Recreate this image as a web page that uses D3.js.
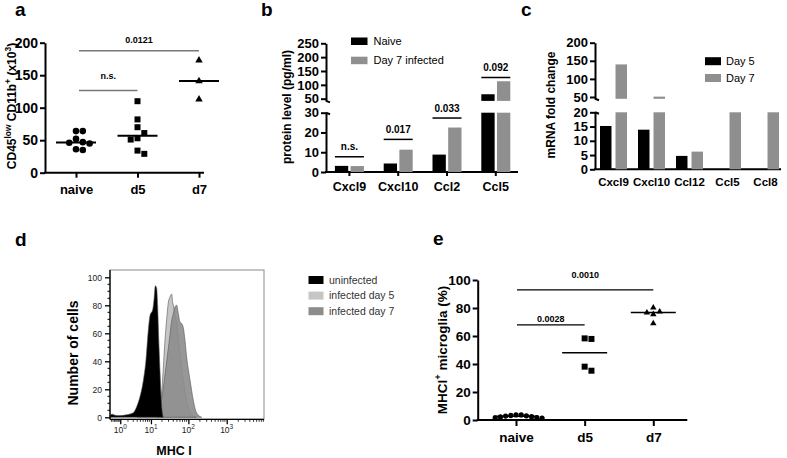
<!DOCTYPE html>
<html><head><meta charset="utf-8">
<script src="https://cdn.jsdelivr.net/npm/d3@7"></script>
<style>
body{margin:0;background:#fff;}
svg{display:block;}
</style></head><body>
<svg id="chart" width="787" height="458"></svg>
<script>
// ---------------- DATA ----------------
// Panel a
const aGroups = ["naive", "d5", "d7"];
const aNaive = [64, 64, 52, 47, 45, 46, 35, 36];
const aD5 = [110, 82, 70, 61, 53, 51, 29, 34];
const aD7 = [173, 141, 113];
const aTicks = [0, 50, 100, 150, 200];
const aSig = [
  {from: "naive", to: "d5", label: "n.s.", y: 126.5, ty: 149},
  {from: "naive", to: "d7", label: "0.0121", y: 187.5, ty: 205}
];
// Panel b
const bCats = ["Cxcl9", "Cxcl10", "Ccl2", "Ccl5"];
const bSeries = ["Naive", "Day 7 infected"];
const bNaive = [3.1, 4.3, 8.8, 66];
const bDay7 = [3.0, 11.3, 22.5, 113];
const bLowTicks = [0, 10, 20, 30];
const bHighTicks = [50, 100, 150, 200, 250];
const bSig = [
  {cat: "Cxcl9", label: "n.s.", y: 7.7},
  {cat: "Cxcl10", label: "0.017", y: 16.5},
  {cat: "Ccl2", label: "0.033", y: 27.3},
  {cat: "Ccl5", label: "0.092", y: 126.5}
];
// Panel c
const cCats = ["Cxcl9", "Cxcl10", "Ccl12", "Ccl5", "Ccl8"];
const cSeries = ["Day 5", "Day 7"];
const cDay5 = [15.2, 13.9, 4.7, 0, 0];
const cDay7 = [140, 51, 6.2, 32, 28];
const cLowTicks = [0, 5, 10, 15, 20];
const cHighTicks = [50, 100, 150, 200];
// Panel d (flow cytometry histograms: MHC I intensity, number of cells)
const dSeries = ["uninfected", "infected day 5", "infected day 7"];
const dUninfI = [0.22, 0.35, 0.54, 0.97, 1.8, 3.0, 3.85, 4.84, 6.05, 7.24, 8.41, 9.39, 11.2, 12.1, 13.2, 14.4, 15.3, 16.3, 17.7, 19.2, 21.7];
const dUninfN = [1.5, 2.2, 1.5, 1.2, 1.8, 3.2, 7.6, 14.7, 26, 41, 62, 72.6, 77, 83.6, 94, 92, 79, 57, 33, 12, 0];
const dDay5I = [4, 8, 12, 16, 19.6, 21.7, 24.1, 26.7, 29.6, 32.8, 36.3, 38.6, 40.2, 44.5, 49.2, 54.5, 60.2, 73.7, 90.2, 122, 160];
const dDay5N = [0, 3, 5, 8, 18, 35, 55, 70, 82, 86, 88, 82, 80, 74, 67, 56, 45, 26, 12, 2, 0];
const dDay7I = [14.4, 17.7, 21.7, 26.7, 32.8, 36.3, 40.2, 44.5, 49.2, 54.5, 60.2, 66.6, 73.7, 81.5, 90.2, 110, 135, 165, 223];
const dDay7N = [0, 6, 21, 40, 59, 69, 74, 79, 80, 74, 68, 67, 64, 55, 43, 27, 12, 3, 0];
const dYTicks = [0, 20, 40, 60, 80, 100];
const dXTicks = [1, 10, 100, 1000];
// Panel e
const eGroups = ["naive", "d5", "d7"];
const eNaive = [3.6, 3.2, 2.8, 2.2, 1.6, 1.3, 1.5, 2.4, 3.0, 3.6];
const eD5 = [58.3, 57.9, 35.2, 38.1];
const eD7 = [80.2, 76.7, 75.5, 77.4, 69];
const eTicks = [0, 20, 40, 60, 80, 100];
const eSig = [
  {from: "naive", to: "d5", label: "0.0028", y: 67.9, ty: 72.5},
  {from: "naive", to: "d7", label: "0.0010", y: 92.9, ty: 103.5}
];

// ---------------- HELPERS ----------------
const FONT = '"Liberation Sans", Arial, Helvetica, sans-serif';
const svg = d3.select("#chart").attr("font-family", FONT);

function styleAxis(g, size, weight, sw) {
  g.attr("font-family", FONT).attr("font-size", size).attr("font-weight", weight);
  g.selectAll(".domain, .tick line").attr("stroke", "#000").attr("stroke-width", sw);
  g.selectAll(".tick text").attr("fill", "#000");
}
function panelLabel(t, x, y) {
  svg.append("text").attr("x", x).attr("y", y).text(t)
    .attr("font-size", 19).attr("font-weight", "bold");
}
function richText(sel, parts, supSize, shift) {
  let prevSup = false;
  parts.forEach(([t, sup]) => {
    const ts = sel.append("tspan").text(t);
    if (sup) ts.attr("font-size", supSize);
    if (sup && !prevSup) ts.attr("dy", -shift);
    if (!sup && prevSup) ts.attr("dy", shift);
    prevSup = sup;
  });
}
function yTitle(cx, cy, size, parts) {
  const t = svg.append("text")
    .attr("transform", `translate(${cx},${cy}) rotate(-90)`)
    .attr("text-anchor", "middle").attr("font-size", size).attr("font-weight", "bold");
  richText(t, parts, size * 0.7, size * 0.4);
  return t;
}
function swarm(values, yScale, r) {
  const order = values.map((v, i) => ({v, i})).sort((a, b) => b.v - a.v);
  const placed = [], offs = new Array(values.length);
  const cands = [0];
  for (let j = 1; j < 30; j++) cands.push(j * r, -j * r);
  order.forEach(p => {
    const y = yScale(p.v);
    let dx = 0;
    for (const c of cands) {
      if (placed.every(q => Math.hypot(q.x - c, q.y - y) >= 2 * r - 0.01)) { dx = c; break; }
    }
    placed.push({x: dx, y});
    offs[p.i] = dx;
  });
  return offs;
}

// ---------------- PANEL A ----------------
(function () {
  const x0 = 45, x1 = 204;
  const x = d3.scalePoint().domain(aGroups).range([76, 199]);
  const y = d3.scaleLinear().domain([0, 200]).range([172.7, 42.7]);
  const g = svg.append("g");
  g.append("g").attr("transform", `translate(${x0},0)`)
    .call(d3.axisLeft(y).tickValues(aTicks).tickSize(5).tickSizeOuter(0).tickPadding(2))
    .call(s => styleAxis(s, 14, "bold", 2));
  const xa = g.append("g").attr("transform", `translate(0,${y(0)})`)
    .call(d3.axisBottom(x).tickSize(5).tickPadding(7).tickSizeOuter(0))
    .call(s => styleAxis(s, 13, "bold", 2));
  xa.select(".domain").remove();
  g.append("line").attr("x1", x0 - 1).attr("x2", x1).attr("y1", y(0)).attr("y2", y(0))
    .attr("stroke", "#000").attr("stroke-width", 2);

  const groups = [
    {name: "naive", vals: aNaive, sym: d3.symbolCircle, size: 34},
    {name: "d5", vals: aD5, sym: d3.symbolSquare, size: 36},
    {name: "d7", vals: aD7, sym: d3.symbolTriangle, size: 24}
  ];
  groups.forEach(gr => {
    const offs = swarm(gr.vals, y, 3.4);
    g.selectAll(null).data(gr.vals).join("path")
      .attr("d", d3.symbol(gr.sym, gr.size))
      .attr("transform", (d, i) => `translate(${x(gr.name) + offs[i]},${y(d)})`)
      .attr("fill", "#000");
    const m = d3.median(gr.vals);
    g.append("line").attr("x1", x(gr.name) - 20).attr("x2", x(gr.name) + 20)
      .attr("y1", y(m)).attr("y2", y(m)).attr("stroke", "#000").attr("stroke-width", 2);
  });
  aSig.forEach(s => {
    const xa1 = x(s.from) + 3, xa2 = x(s.to);
    g.append("line").attr("x1", xa1).attr("x2", xa2).attr("y1", y(s.y)).attr("y2", y(s.y))
      .attr("stroke", "#777").attr("stroke-width", 1.5);
    g.append("text").attr("x", (xa1 + xa2) / 2).attr("y", y(s.ty)).attr("dy", "0.35em")
      .attr("text-anchor", "middle").attr("font-size", 9).attr("font-weight", "bold").text(s.label);
  });
  yTitle(15.5, 106, 12, [["CD45", false], ["low", true], [" CD11b", false], ["+", true], [" (x10", false], ["3", true], [")", false]]);
  panelLabel("a", 15, 16);
})();

// ---------------- PANEL B ----------------
(function () {
  const x0 = 326;
  const low = d3.scaleLinear().domain([0, 30]).range([172, 112.7]);
  const high = d3.scaleLinear().domain([42, 250]).range([100.9, 43.3]);
  const xb = d3.scaleBand().domain(bCats).range([325, 520.2]);
  const xs = d3.scaleBand().domain(bSeries).range([-14.5, 14.5]).paddingInner(0.15);
  const color = d3.scaleOrdinal().domain(bSeries).range(["#000", "#8f8f8f"]);
  const g = svg.append("g");
  g.append("g").attr("transform", `translate(${x0},0)`)
    .call(d3.axisLeft(low).tickValues(bLowTicks).tickSize(5).tickSizeOuter(0).tickPadding(2))
    .call(s => styleAxis(s, 13, "bold", 2));
  g.append("g").attr("transform", `translate(${x0},0)`)
    .call(d3.axisLeft(high).tickValues(bHighTicks).tickSize(5).tickSizeOuter(0).tickPadding(2))
    .call(s => styleAxis(s, 13, "bold", 2));
  // break marks
  [high(42), low(30)].forEach(yy => {
    g.append("line").attr("x1", x0).attr("x2", x0 + 4).attr("y1", yy).attr("y2", yy + 1.5)
      .attr("stroke", "#000").attr("stroke-width", 2);
  });
  const xa = g.append("g").attr("transform", `translate(0,${low(0)})`)
    .call(d3.axisBottom(xb).tickSize(4).tickPadding(6).tickSizeOuter(0))
    .call(s => styleAxis(s, 12.5, "bold", 2));
  xa.select(".domain").remove();
  g.append("line").attr("x1", x0 - 1).attr("x2", 518).attr("y1", low(0)).attr("y2", low(0))
    .attr("stroke", "#000").attr("stroke-width", 2);

  const rows = [];
  bCats.forEach((c, i) => {
    rows.push({cat: c, s: bSeries[0], v: bNaive[i]});
    rows.push({cat: c, s: bSeries[1], v: bDay7[i]});
  });
  rows.forEach(r => {
    const bx = xb(r.cat) + xb.bandwidth() / 2 + xs(r.s);
    const lowTop = low(Math.min(r.v, 30));
    g.append("rect").attr("x", bx).attr("width", xs.bandwidth())
      .attr("y", lowTop).attr("height", low(0) - lowTop).attr("fill", color(r.s));
    if (r.v > 42) {
      g.append("rect").attr("x", bx).attr("width", xs.bandwidth())
        .attr("y", high(r.v)).attr("height", high(42) - high(r.v)).attr("fill", color(r.s));
    }
  });
  bSig.forEach(s => {
    const cx = xb(s.cat) + xb.bandwidth() / 2;
    const yy = s.y > 30 ? high(s.y) : low(s.y);
    g.append("line").attr("x1", cx + xs(bSeries[0])).attr("x2", cx + xs(bSeries[1]) + xs.bandwidth())
      .attr("y1", yy).attr("y2", yy).attr("stroke", "#000").attr("stroke-width", 1.5);
    g.append("text").attr("x", cx).attr("y", yy - 6.5).attr("text-anchor", "middle")
      .attr("font-size", 10).attr("font-weight", "bold").text(s.label);
  });
  bSeries.forEach((s, i) => {
    g.append("rect").attr("x", 351).attr("y", 37.5 + i * 19.2).attr("width", 16.5).attr("height", 7.5).attr("fill", color(s));
    g.append("text").attr("x", 373.5).attr("y", 41.3 + i * 19.2).attr("dy", "0.35em").attr("font-size", 11).text(s);
  });
  yTitle(290.5, 107, 12, [["protein level (pg/ml)", false]]);
  panelLabel("b", 261, 16);
})();

// ---------------- PANEL C ----------------
(function () {
  const x0 = 595;
  const low = d3.scaleLinear().domain([0, 20]).range([169.3, 112.3]);
  const high = d3.scaleLinear().domain([45, 200]).range([98.8, 42.7]);
  const xb = d3.scaleBand().domain(cCats).range([594.5, 784.5]);
  const xs = d3.scaleBand().domain(cSeries).range([-13.5, 13.5]).paddingInner(0.26);
  const color = d3.scaleOrdinal().domain(cSeries).range(["#000", "#8f8f8f"]);
  const g = svg.append("g");
  g.append("g").attr("transform", `translate(${x0},0)`)
    .call(d3.axisLeft(low).tickValues(cLowTicks).tickSize(5).tickSizeOuter(0).tickPadding(2))
    .call(s => styleAxis(s, 13, "bold", 2));
  g.append("g").attr("transform", `translate(${x0},0)`)
    .call(d3.axisLeft(high).tickValues(cHighTicks).tickSize(5).tickSizeOuter(0).tickPadding(2))
    .call(s => styleAxis(s, 13, "bold", 2));
  [high(45), low(20)].forEach(yy => {
    g.append("line").attr("x1", x0).attr("x2", x0 + 4).attr("y1", yy).attr("y2", yy + 1.5)
      .attr("stroke", "#000").attr("stroke-width", 2);
  });
  const xa = g.append("g").attr("transform", `translate(0,${low(0)})`)
    .call(d3.axisBottom(xb).tickSize(0).tickPadding(9).tickSizeOuter(0))
    .call(s => styleAxis(s, 11.5, "bold", 2));
  xa.select(".domain").remove();
  g.append("line").attr("x1", x0 - 1).attr("x2", 781).attr("y1", low(0)).attr("y2", low(0))
    .attr("stroke", "#000").attr("stroke-width", 2);
  const rows = [];
  cCats.forEach((c, i) => {
    rows.push({cat: c, s: cSeries[0], v: cDay5[i]});
    rows.push({cat: c, s: cSeries[1], v: cDay7[i]});
  });
  rows.forEach(r => {
    if (r.v <= 0) return;
    const bx = xb(r.cat) + xb.bandwidth() / 2 + xs(r.s);
    const lowTop = low(Math.min(r.v, 20));
    g.append("rect").attr("x", bx).attr("width", xs.bandwidth())
      .attr("y", lowTop).attr("height", low(0) - lowTop).attr("fill", color(r.s));
    if (r.v > 45) {
      g.append("rect").attr("x", bx).attr("width", xs.bandwidth())
        .attr("y", high(r.v)).attr("height", high(45) - high(r.v)).attr("fill", color(r.s));
    }
  });
  cSeries.forEach((s, i) => {
    g.append("rect").attr("x", 705).attr("y", 57.2 + i * 16.8).attr("width", 16).attr("height", 8).attr("fill", color(s));
    g.append("text").attr("x", 726).attr("y", 61.2 + i * 16.8).attr("dy", "0.35em").attr("font-size", 11).text(s);
  });
  yTitle(554.5, 105, 12, [["mRNA fold change", false]]);
  panelLabel("c", 521, 16);
})();

// ---------------- PANEL D ----------------
(function () {
  const L = 110, R = 264, T = 270, B = 419.3;
  const x = d3.scaleSymlog().constant(0.7).domain([0.22, 9350]).range([L, R]);
  const y = d3.scaleLinear().domain([0, 100]).range([417.3, 277.3]);
  const g = svg.append("g");
  const colors = d3.scaleOrdinal().domain(dSeries).range(["#000", "#c6c6c6", "#8c8c8c"]);
  g.append("rect").attr("x", L).attr("y", T).attr("width", R - L).attr("height", B - T)
    .attr("fill", "none").attr("stroke", "#8a8a8a").attr("stroke-width", 1);
  const area = d3.area().x(d => x(d[0])).y0(y(0)).y1(d => y(d[1])).curve(d3.curveMonotoneX);
  const sets = [
    {s: dSeries[1], I: dDay5I, N: dDay5N},
    {s: dSeries[2], I: dDay7I, N: dDay7N},
    {s: dSeries[0], I: dUninfI, N: dUninfN}
  ];
  sets.forEach(st => {
    const pts = st.I.map((v, i) => [v, st.N[i]]);
    g.append("path").attr("d", area(pts)).attr("fill", colors(st.s))
      .attr("fill-opacity", st.s === dSeries[2] ? 0.9 : 1)
      .attr("stroke", "#555").attr("stroke-width", 0.6);
  });
  // y axis
  const ya = g.append("g").attr("transform", `translate(${L},0)`)
    .call(d3.axisLeft(y).tickValues(dYTicks).tickSize(5).tickSizeOuter(0).tickPadding(3))
    .call(s => styleAxis(s, 8.5, "normal", 1.3));
  ya.select(".domain").attr("d", `M0,${B}V${T}`);
  ya.selectAll(".tick text").attr("fill", "#222");
  const yMinor = d3.range(0, 105, 5).filter(v => v % 20 !== 0);
  g.selectAll(null).data(yMinor).join("line").attr("x1", L - 2.5).attr("x2", L)
    .attr("y1", d => y(d)).attr("y2", d => y(d)).attr("stroke", "#000").attr("stroke-width", 1);
  // x axis
  const xa = g.append("g").attr("transform", `translate(0,${B})`)
    .call(d3.axisBottom(x).tickValues(dXTicks).tickSize(5).tickSizeOuter(0).tickFormat(""))
    .call(s => styleAxis(s, 8.5, "normal", 1.3));
  xa.select(".domain").attr("d", `M${L},0H${R}`);
  const xMinor = [];
  [0.1, 1, 10, 100, 1000].forEach(d => { for (let m = 2; m <= 9; m++) { const v = m * d; if (v >= 0.3 && v <= 9300) xMinor.push(v); } });
  g.selectAll(null).data(xMinor).join("line").attr("x1", d => x(d)).attr("x2", d => x(d))
    .attr("y1", B).attr("y2", B + 2.5).attr("stroke", "#000").attr("stroke-width", 0.8);
  dXTicks.forEach(v => {
    const t = g.append("text").attr("x", x(v)).attr("y", B + 14).attr("text-anchor", "middle")
      .attr("font-size", 8.5).attr("fill", "#222");
    t.append("tspan").text("10");
    t.append("tspan").text(String(Math.round(Math.log10(v)))).attr("font-size", 6.5).attr("dy", -4);
  });
  yTitle(78, 353, 14, [["Number of cells", false]]);
  g.append("text").attr("x", 174).attr("y", 455).attr("text-anchor", "middle")
    .attr("font-size", 12.5).attr("font-weight", "bold").text("MHC I");
  dSeries.forEach((s, i) => {
    g.append("rect").attr("x", 308.5).attr("y", 276 + i * 15.6).attr("width", 15).attr("height", 8).attr("fill", colors(s));
    g.append("text").attr("x", 329).attr("y", 280 + i * 15.6).attr("dy", "0.35em")
      .attr("font-size", 10.5).attr("fill", "#333").text(s);
  });
  panelLabel("d", 15, 246);
})();

// ---------------- PANEL E ----------------
(function () {
  const x0 = 477.7, x1 = 687.3;
  const x = d3.scalePoint().domain(eGroups).range([516, 653.3]);
  const y = d3.scaleLinear().domain([0, 100]).range([420, 280]);
  const g = svg.append("g");
  g.append("g").attr("transform", `translate(${x0},0)`)
    .call(d3.axisLeft(y).tickValues(eTicks).tickSize(5).tickSizeOuter(0).tickPadding(2))
    .call(s => styleAxis(s, 13.5, "bold", 2));
  const xa = g.append("g").attr("transform", `translate(0,${y(0)})`)
    .call(d3.axisBottom(x).tickSize(6).tickPadding(6).tickSizeOuter(0))
    .call(s => styleAxis(s, 13.5, "bold", 2));
  xa.select(".domain").remove();
  g.append("line").attr("x1", x0 - 1).attr("x2", x1).attr("y1", y(0)).attr("y2", y(0))
    .attr("stroke", "#000").attr("stroke-width", 2);
  const groups = [
    {name: "naive", vals: eNaive, sym: d3.symbolCircle, size: 22, r: 2.6},
    {name: "d5", vals: eD5, sym: d3.symbolSquare, size: 36, r: 3.4},
    {name: "d7", vals: eD7, sym: d3.symbolTriangle, size: 18, r: 3.2}
  ];
  groups.forEach(gr => {
    const offs = swarm(gr.vals, y, gr.r);
    g.selectAll(null).data(gr.vals).join("path")
      .attr("d", d3.symbol(gr.sym, gr.size))
      .attr("transform", (d, i) => `translate(${x(gr.name) + offs[i]},${y(d)})`)
      .attr("fill", "#000");
    const m = d3.median(gr.vals);
    g.append("line").attr("x1", x(gr.name) - 22.5).attr("x2", x(gr.name) + 22.5)
      .attr("y1", y(m)).attr("y2", y(m)).attr("stroke", "#000").attr("stroke-width", 1.5);
  });
  eSig.forEach(s => {
    const xa1 = x(s.from) + 1, xa2 = x(s.to);
    g.append("line").attr("x1", xa1).attr("x2", xa2).attr("y1", y(s.y)).attr("y2", y(s.y))
      .attr("stroke", "#000").attr("stroke-width", 1.3);
    g.append("text").attr("x", (xa1 + xa2) / 2).attr("y", y(s.ty)).attr("dy", "0.35em")
      .attr("text-anchor", "middle").attr("font-size", 9).attr("font-weight", "bold").text(s.label);
  });
  yTitle(446.5, 350, 13.5, [["MHCI", false], ["+", true], [" microglia (%)", false]]);
  panelLabel("e", 433, 245);
})();
</script>
</body></html>
